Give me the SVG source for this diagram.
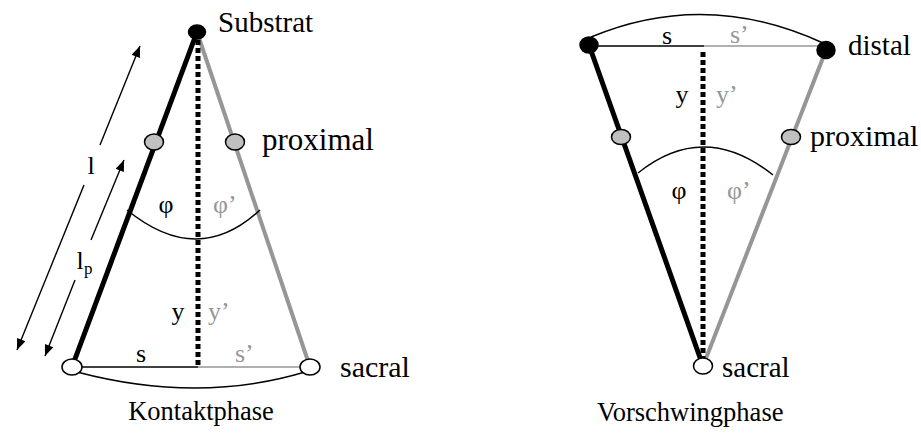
<svg xmlns="http://www.w3.org/2000/svg" width="921" height="443" viewBox="0 0 921 443">
<defs>
<style>
text{font-family:"Liberation Serif","Times New Roman",serif;fill:#000}
.g{fill:#969696}
.lbl{font-size:26px}
.cap{font-size:26.5px}
.leg{fill:none;stroke-linecap:butt}
.blk{stroke:#000;stroke-width:5}
.gry{stroke:#969696;stroke-width:4}
.dot{stroke:#000;stroke-width:5;stroke-dasharray:5 3;fill:none}
.thin{fill:none;stroke:#000;stroke-width:1.5}
.thing{fill:none;stroke:#969696;stroke-width:1.5}
.arr{fill:none;stroke:#000;stroke-width:1.4}
.nb{fill:#000;stroke:#000;stroke-width:1.5}
.np{fill:#c0c0c0;stroke:#000;stroke-width:1.5}
.nw{fill:#fff;stroke:#000;stroke-width:1.5}
</style>
<marker id="ah" viewBox="0 0 10 8" refX="10" refY="4" markerWidth="13" markerHeight="9" markerUnits="userSpaceOnUse" orient="auto">
<path d="M0,0 L10,4 L0,8 z" fill="#000"/>
</marker>
</defs>

<g id="connectors">
<!-- left figure -->
<line class="leg blk" x1="197" y1="32" x2="72" y2="367"/>
<line class="leg gry" x1="197" y1="32" x2="310" y2="367"/>
<line class="dot" x1="198" y1="40" x2="198" y2="367"/>
<line class="thin" x1="72" y1="367" x2="198" y2="367"/>
<line class="thing" x1="198" y1="367" x2="310" y2="367"/>
<path class="thin" d="M77,372 Q198,404 305,372"/>
<path class="thin" d="M127,210 Q198,268 260,210"/>
<line class="arr" x1="84" y1="185" x2="17" y2="350" marker-end="url(#ah)"/>
<line class="arr" x1="100" y1="145" x2="140" y2="46" marker-end="url(#ah)"/>
<line class="arr" x1="75" y1="280" x2="45" y2="356" marker-end="url(#ah)"/>
<line class="arr" x1="91" y1="240" x2="124" y2="160" marker-end="url(#ah)"/>
<!-- right figure -->
<line class="leg blk" x1="589" y1="45" x2="703" y2="366"/>
<line class="leg gry" x1="826" y1="50" x2="703" y2="366"/>
<line class="dot" x1="703" y1="52" x2="703" y2="360"/>
<line class="thin" x1="589" y1="46" x2="704" y2="46"/>
<line class="thing" x1="704" y1="46" x2="826" y2="46"/>
<path class="thin" d="M591,37 Q706,-11 823,43"/>
<path class="thin" d="M638,173 Q704,120 773,175"/>
</g>

<g id="substrat">
<ellipse class="nb" cx="197" cy="32" rx="8.5" ry="7"/>
<text x="218" y="32" style="font-size:29px">Substrat</text>
</g>
<g id="proximal-left-a">
<ellipse class="np" cx="154" cy="142" rx="9.5" ry="8"/>
</g>
<g id="proximal-left-b">
<ellipse class="np" cx="235" cy="142" rx="9.5" ry="8"/>
<text x="262" y="150" style="font-size:31px">proximal</text>
</g>
<g id="sacral-left-a">
<ellipse class="nw" cx="72" cy="367" rx="10" ry="8"/>
</g>
<g id="sacral-left-b">
<ellipse class="nw" cx="310" cy="367" rx="10" ry="8"/>
<text x="340" y="377" style="font-size:30px">sacral</text>
</g>
<g id="labels-left">
<text class="lbl" x="91" y="174" text-anchor="middle">l</text>
<text class="lbl" x="80" y="269" text-anchor="middle">l</text>
<text x="84" y="274" style="font-size:17px">p</text>
<text class="lbl" x="166" y="213" text-anchor="middle">φ</text>
<text class="lbl g" x="213" y="213">φ’</text>
<text class="lbl" x="178" y="320" text-anchor="middle">y</text>
<text class="lbl g" x="208" y="320">y’</text>
<text class="lbl" x="141" y="362" text-anchor="middle">s</text>
<text class="lbl g" x="235" y="362">s’</text>
<text class="cap" x="201" y="420" text-anchor="middle">Kontaktphase</text>
</g>

<g id="distal-left">
<ellipse class="nb" cx="589" cy="45" rx="9" ry="8"/>
</g>
<g id="distal-right">
<ellipse class="nb" cx="826" cy="50" rx="9" ry="8.5"/>
<text x="848" y="55" style="font-size:29px">distal</text>
</g>
<g id="proximal-right-a">
<ellipse class="np" cx="621" cy="137" rx="9.5" ry="7.5"/>
</g>
<g id="proximal-right-b">
<ellipse class="np" cx="791" cy="137" rx="9.5" ry="7.5"/>
<text x="810" y="146" style="font-size:30px">proximal</text>
</g>
<g id="sacral-right">
<ellipse class="nw" cx="703" cy="366" rx="9.5" ry="8"/>
<text x="722" y="377" style="font-size:29px">sacral</text>
</g>
<g id="labels-right">
<text class="lbl" x="667" y="44" text-anchor="middle">s</text>
<text class="lbl g" x="730" y="43">s’</text>
<text class="lbl" x="682" y="103" text-anchor="middle">y</text>
<text class="lbl g" x="716" y="103">y’</text>
<text class="lbl" x="679" y="199" text-anchor="middle">φ</text>
<text class="lbl g" x="727" y="199">φ’</text>
<text class="cap" x="597" y="421">Vorschwingphase</text>
</g>
</svg>
